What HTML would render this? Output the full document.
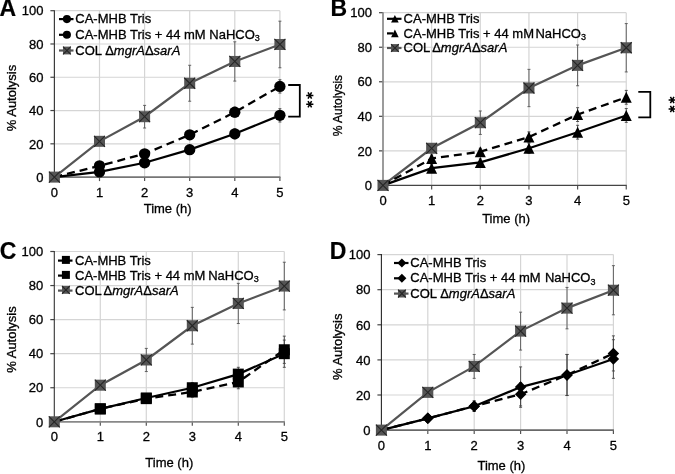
<!DOCTYPE html>
<html><head><meta charset="utf-8"><style>
html,body{margin:0;padding:0;background:#fff;width:675px;height:474px;overflow:hidden}
svg{display:block;filter:blur(0.3px)}
text{font-family:"Liberation Sans", sans-serif;fill:#000;stroke:#000;stroke-width:0.3px}
</style></head><body>
<svg width="675" height="474" viewBox="0 0 675 474">
<line x1="54.40" y1="143.82" x2="279.90" y2="143.82" stroke="#d5d5d5" stroke-width="1.2"/>
<line x1="54.40" y1="110.54" x2="279.90" y2="110.54" stroke="#d5d5d5" stroke-width="1.2"/>
<line x1="54.40" y1="77.26" x2="279.90" y2="77.26" stroke="#d5d5d5" stroke-width="1.2"/>
<line x1="54.40" y1="43.98" x2="279.90" y2="43.98" stroke="#d5d5d5" stroke-width="1.2"/>
<line x1="54.40" y1="10.70" x2="279.90" y2="10.70" stroke="#d5d5d5" stroke-width="1.2"/>
<line x1="99.50" y1="10.70" x2="99.50" y2="177.10" stroke="#d5d5d5" stroke-width="1.2"/>
<line x1="144.60" y1="10.70" x2="144.60" y2="177.10" stroke="#d5d5d5" stroke-width="1.2"/>
<line x1="189.70" y1="10.70" x2="189.70" y2="177.10" stroke="#d5d5d5" stroke-width="1.2"/>
<line x1="234.80" y1="10.70" x2="234.80" y2="177.10" stroke="#d5d5d5" stroke-width="1.2"/>
<line x1="279.90" y1="10.70" x2="279.90" y2="177.10" stroke="#d5d5d5" stroke-width="1.2"/>
<line x1="50.40" y1="143.82" x2="54.40" y2="143.82" stroke="#444" stroke-width="1.2"/>
<line x1="50.40" y1="110.54" x2="54.40" y2="110.54" stroke="#444" stroke-width="1.2"/>
<line x1="50.40" y1="77.26" x2="54.40" y2="77.26" stroke="#444" stroke-width="1.2"/>
<line x1="50.40" y1="43.98" x2="54.40" y2="43.98" stroke="#444" stroke-width="1.2"/>
<line x1="50.40" y1="10.70" x2="54.40" y2="10.70" stroke="#444" stroke-width="1.2"/>
<line x1="54.40" y1="177.10" x2="54.40" y2="181.10" stroke="#555" stroke-width="1.2"/>
<line x1="99.50" y1="177.10" x2="99.50" y2="181.10" stroke="#555" stroke-width="1.2"/>
<line x1="144.60" y1="177.10" x2="144.60" y2="181.10" stroke="#555" stroke-width="1.2"/>
<line x1="189.70" y1="177.10" x2="189.70" y2="181.10" stroke="#555" stroke-width="1.2"/>
<line x1="234.80" y1="177.10" x2="234.80" y2="181.10" stroke="#555" stroke-width="1.2"/>
<line x1="279.90" y1="177.10" x2="279.90" y2="181.10" stroke="#555" stroke-width="1.2"/>
<line x1="54.40" y1="10.20" x2="54.40" y2="177.10" stroke="#3c3c3c" stroke-width="1.2"/>
<line x1="54.40" y1="177.10" x2="280.40" y2="177.10" stroke="#767676" stroke-width="1.6"/>
<text x="43.40" y="181.80" text-anchor="end" font-size="13">0</text>
<text x="43.40" y="148.52" text-anchor="end" font-size="13">20</text>
<text x="43.40" y="115.24" text-anchor="end" font-size="13">40</text>
<text x="43.40" y="81.96" text-anchor="end" font-size="13">60</text>
<text x="43.40" y="48.68" text-anchor="end" font-size="13">80</text>
<text x="43.40" y="15.40" text-anchor="end" font-size="13">100</text>
<text x="54.40" y="196.70" text-anchor="middle" font-size="13">0</text>
<text x="99.50" y="196.70" text-anchor="middle" font-size="13">1</text>
<text x="144.60" y="196.70" text-anchor="middle" font-size="13">2</text>
<text x="189.70" y="196.70" text-anchor="middle" font-size="13">3</text>
<text x="234.80" y="196.70" text-anchor="middle" font-size="13">4</text>
<text x="279.90" y="196.70" text-anchor="middle" font-size="13">5</text>
<text x="167.65" y="212.70" text-anchor="middle" font-size="13" style="stroke-width:0.3px">Time (h)</text>
<text transform="translate(15.70,98.00) rotate(-90)" text-anchor="middle" font-size="13" style="stroke-width:0.3px">% Autolysis</text>
<text x="-0.60" y="15.70" font-size="23" font-weight="bold" style="stroke-width:0.2px">A</text>
<path d="M99.50,138.00V144.65M98.00,138.00h3M98.00,144.65h3" stroke="#555" stroke-width="0.9" fill="none"/>
<path d="M144.60,105.38V128.01M143.10,105.38h3M143.10,128.01h3" stroke="#555" stroke-width="0.9" fill="none"/>
<path d="M189.70,65.28V101.22M188.20,65.28h3M188.20,101.22h3" stroke="#555" stroke-width="0.9" fill="none"/>
<path d="M234.80,41.82V81.09M233.30,41.82h3M233.30,81.09h3" stroke="#555" stroke-width="0.9" fill="none"/>
<path d="M279.90,21.18V67.78M278.40,21.18h3M278.40,67.78h3" stroke="#555" stroke-width="0.9" fill="none"/>
<path d="M99.50,170.28V173.61M98.00,170.28h3M98.00,173.61h3" stroke="#444" stroke-width="0.9" fill="none"/>
<path d="M144.60,160.29V165.29M143.10,160.29h3M143.10,165.29h3" stroke="#444" stroke-width="0.9" fill="none"/>
<path d="M189.70,146.32V152.97M188.20,146.32h3M188.20,152.97h3" stroke="#444" stroke-width="0.9" fill="none"/>
<path d="M234.80,128.84V138.83M233.30,128.84h3M233.30,138.83h3" stroke="#444" stroke-width="0.9" fill="none"/>
<path d="M279.90,108.71V122.02M278.40,108.71h3M278.40,122.02h3" stroke="#444" stroke-width="0.9" fill="none"/>
<path d="M99.50,164.12V167.45M98.00,164.12h3M98.00,167.45h3" stroke="#444" stroke-width="0.9" fill="none"/>
<path d="M144.60,150.48V157.13M143.10,150.48h3M143.10,157.13h3" stroke="#444" stroke-width="0.9" fill="none"/>
<path d="M189.70,130.67V138.99M188.20,130.67h3M188.20,138.99h3" stroke="#444" stroke-width="0.9" fill="none"/>
<path d="M234.80,107.21V117.20M233.30,107.21h3M233.30,117.20h3" stroke="#444" stroke-width="0.9" fill="none"/>
<path d="M279.90,79.76V93.07M278.40,79.76h3M278.40,93.07h3" stroke="#444" stroke-width="0.9" fill="none"/>
<polyline points="54.40,177.10 99.50,141.32 144.60,116.70 189.70,83.25 234.80,61.45 279.90,44.48" fill="none" stroke="#555555" stroke-width="2.2"/>
<polyline points="54.40,177.10 99.50,165.78 144.60,153.80 189.70,134.83 234.80,112.20 279.90,86.41" fill="none" stroke="#000" stroke-width="2.3" stroke-dasharray="8,5"/>
<polyline points="54.40,177.10 99.50,171.94 144.60,162.79 189.70,149.64 234.80,133.84 279.90,115.37" fill="none" stroke="#000" stroke-width="2.2"/>
<circle cx="99.50" cy="165.78" r="5.65" fill="#000"/>
<circle cx="99.50" cy="171.94" r="5.65" fill="#000"/>
<circle cx="144.60" cy="153.80" r="5.65" fill="#000"/>
<circle cx="144.60" cy="162.79" r="5.65" fill="#000"/>
<circle cx="189.70" cy="134.83" r="5.65" fill="#000"/>
<circle cx="189.70" cy="149.64" r="5.65" fill="#000"/>
<circle cx="234.80" cy="112.20" r="5.65" fill="#000"/>
<circle cx="234.80" cy="133.84" r="5.65" fill="#000"/>
<circle cx="279.90" cy="86.41" r="5.65" fill="#000"/>
<circle cx="279.90" cy="115.37" r="5.65" fill="#000"/>
<rect x="48.90" y="171.60" width="11.00" height="11.00" fill="#555555"/><path d="M48.90,171.60L59.90,182.60M59.90,171.60L48.90,182.60" stroke="#262626" stroke-width="1.1"/>
<rect x="94.00" y="135.82" width="11.00" height="11.00" fill="#555555"/><path d="M94.00,135.82L105.00,146.82M105.00,135.82L94.00,146.82" stroke="#262626" stroke-width="1.1"/>
<rect x="139.10" y="111.20" width="11.00" height="11.00" fill="#555555"/><path d="M139.10,111.20L150.10,122.20M150.10,111.20L139.10,122.20" stroke="#262626" stroke-width="1.1"/>
<rect x="184.20" y="77.75" width="11.00" height="11.00" fill="#555555"/><path d="M184.20,77.75L195.20,88.75M195.20,77.75L184.20,88.75" stroke="#262626" stroke-width="1.1"/>
<rect x="229.30" y="55.95" width="11.00" height="11.00" fill="#555555"/><path d="M229.30,55.95L240.30,66.95M240.30,55.95L229.30,66.95" stroke="#262626" stroke-width="1.1"/>
<rect x="274.40" y="38.98" width="11.00" height="11.00" fill="#555555"/><path d="M274.40,38.98L285.40,49.98M285.40,38.98L274.40,49.98" stroke="#262626" stroke-width="1.1"/>
<line x1="59.00" y1="19.10" x2="73.50" y2="19.10" stroke="#000" stroke-width="2.2"/>
<circle cx="66.90" cy="19.10" r="4.05" fill="#000"/>
<line x1="59.00" y1="34.80" x2="65.00" y2="34.80" stroke="#000" stroke-width="2.2"/>
<circle cx="66.90" cy="34.80" r="4.05" fill="#000"/>
<line x1="59.00" y1="50.50" x2="73.50" y2="50.50" stroke="#555555" stroke-width="2.2"/>
<rect x="63.00" y="46.60" width="7.80" height="7.80" fill="#555555"/><path d="M63.00,46.60L70.80,54.40M70.80,46.60L63.00,54.40" stroke="#262626" stroke-width="1.1"/>
<text x="75.30" y="23.20" font-size="13">CA-MHB Tris</text>
<text x="75.30" y="38.90" font-size="13">CA-MHB Tris + 44 mM<tspan dx="0"> NaHCO</tspan><tspan font-size="9" dy="2.5">3</tspan></text>
<text x="75.30" y="54.60" font-size="13">COL <tspan dx="0">Δ</tspan><tspan font-style="italic">mgrA</tspan>Δ<tspan font-style="italic">sarA</tspan></text>
<path d="M288.2,85H299.8V116.6H288.2" fill="none" stroke="#000" stroke-width="1.8"/>
<path d="M306.20,95.40L313.40,95.40M308.00,92.28L311.60,98.52M311.60,92.28L308.00,98.52" stroke="#000" stroke-width="1.5" stroke-linecap="butt"/>
<path d="M306.20,104.20L313.40,104.20M308.00,101.08L311.60,107.32M311.60,101.08L308.00,107.32" stroke="#000" stroke-width="1.5" stroke-linecap="butt"/>
<line x1="383.00" y1="150.86" x2="626.25" y2="150.86" stroke="#d5d5d5" stroke-width="1.2"/>
<line x1="383.00" y1="116.32" x2="626.25" y2="116.32" stroke="#d5d5d5" stroke-width="1.2"/>
<line x1="383.00" y1="81.78" x2="626.25" y2="81.78" stroke="#d5d5d5" stroke-width="1.2"/>
<line x1="383.00" y1="47.24" x2="626.25" y2="47.24" stroke="#d5d5d5" stroke-width="1.2"/>
<line x1="383.00" y1="12.70" x2="626.25" y2="12.70" stroke="#d5d5d5" stroke-width="1.2"/>
<line x1="431.65" y1="12.70" x2="431.65" y2="185.40" stroke="#d5d5d5" stroke-width="1.2"/>
<line x1="480.30" y1="12.70" x2="480.30" y2="185.40" stroke="#d5d5d5" stroke-width="1.2"/>
<line x1="528.95" y1="12.70" x2="528.95" y2="185.40" stroke="#d5d5d5" stroke-width="1.2"/>
<line x1="577.60" y1="12.70" x2="577.60" y2="185.40" stroke="#d5d5d5" stroke-width="1.2"/>
<line x1="626.25" y1="12.70" x2="626.25" y2="185.40" stroke="#d5d5d5" stroke-width="1.2"/>
<line x1="379.00" y1="150.86" x2="383.00" y2="150.86" stroke="#444" stroke-width="1.2"/>
<line x1="379.00" y1="116.32" x2="383.00" y2="116.32" stroke="#444" stroke-width="1.2"/>
<line x1="379.00" y1="81.78" x2="383.00" y2="81.78" stroke="#444" stroke-width="1.2"/>
<line x1="379.00" y1="47.24" x2="383.00" y2="47.24" stroke="#444" stroke-width="1.2"/>
<line x1="379.00" y1="12.70" x2="383.00" y2="12.70" stroke="#444" stroke-width="1.2"/>
<line x1="383.00" y1="185.40" x2="383.00" y2="189.40" stroke="#555" stroke-width="1.2"/>
<line x1="431.65" y1="185.40" x2="431.65" y2="189.40" stroke="#555" stroke-width="1.2"/>
<line x1="480.30" y1="185.40" x2="480.30" y2="189.40" stroke="#555" stroke-width="1.2"/>
<line x1="528.95" y1="185.40" x2="528.95" y2="189.40" stroke="#555" stroke-width="1.2"/>
<line x1="577.60" y1="185.40" x2="577.60" y2="189.40" stroke="#555" stroke-width="1.2"/>
<line x1="626.25" y1="185.40" x2="626.25" y2="189.40" stroke="#555" stroke-width="1.2"/>
<line x1="383.00" y1="12.20" x2="383.00" y2="185.40" stroke="#8a8a8a" stroke-width="1.7"/>
<line x1="383.00" y1="185.40" x2="626.75" y2="185.40" stroke="#454545" stroke-width="1.3"/>
<text x="372.00" y="190.10" text-anchor="end" font-size="13">0</text>
<text x="372.00" y="155.56" text-anchor="end" font-size="13">20</text>
<text x="372.00" y="121.02" text-anchor="end" font-size="13">40</text>
<text x="372.00" y="86.48" text-anchor="end" font-size="13">60</text>
<text x="372.00" y="51.94" text-anchor="end" font-size="13">80</text>
<text x="372.00" y="17.40" text-anchor="end" font-size="13">100</text>
<text x="383.00" y="205.00" text-anchor="middle" font-size="13">0</text>
<text x="431.65" y="205.00" text-anchor="middle" font-size="13">1</text>
<text x="480.30" y="205.00" text-anchor="middle" font-size="13">2</text>
<text x="528.95" y="205.00" text-anchor="middle" font-size="13">3</text>
<text x="577.60" y="205.00" text-anchor="middle" font-size="13">4</text>
<text x="626.25" y="205.00" text-anchor="middle" font-size="13">5</text>
<text x="506.12" y="223.00" text-anchor="middle" font-size="13" style="stroke-width:0.3px">Time (h)</text>
<text transform="translate(342.10,105.60) rotate(-90)" text-anchor="middle" font-size="12" style="stroke-width:0.3px">% Autolysis</text>
<text x="330.60" y="15.80" font-size="23" font-weight="bold" style="stroke-width:0.2px">B</text>
<path d="M431.65,144.82V151.72M430.15,144.82h3M430.15,151.72h3" stroke="#555" stroke-width="0.9" fill="none"/>
<path d="M480.30,110.97V134.45M478.80,110.97h3M478.80,134.45h3" stroke="#555" stroke-width="0.9" fill="none"/>
<path d="M528.95,69.35V106.65M527.45,69.35h3M527.45,106.65h3" stroke="#555" stroke-width="0.9" fill="none"/>
<path d="M577.60,44.99V85.75M576.10,44.99h3M576.10,85.75h3" stroke="#555" stroke-width="0.9" fill="none"/>
<path d="M626.25,23.58V71.94M624.75,23.58h3M624.75,71.94h3" stroke="#555" stroke-width="0.9" fill="none"/>
<path d="M431.65,164.68V171.58M430.15,164.68h3M430.15,171.58h3" stroke="#444" stroke-width="0.9" fill="none"/>
<path d="M480.30,158.98V165.88M478.80,158.98h3M478.80,165.88h3" stroke="#444" stroke-width="0.9" fill="none"/>
<path d="M528.95,143.09V153.45M527.45,143.09h3M527.45,153.45h3" stroke="#444" stroke-width="0.9" fill="none"/>
<path d="M577.60,125.30V139.12M576.10,125.30h3M576.10,139.12h3" stroke="#444" stroke-width="0.9" fill="none"/>
<path d="M626.25,108.55V122.36M624.75,108.55h3M624.75,122.36h3" stroke="#444" stroke-width="0.9" fill="none"/>
<path d="M431.65,155.00V161.91M430.15,155.00h3M430.15,161.91h3" stroke="#444" stroke-width="0.9" fill="none"/>
<path d="M480.30,148.27V155.18M478.80,148.27h3M478.80,155.18h3" stroke="#444" stroke-width="0.9" fill="none"/>
<path d="M528.95,131.86V142.22M527.45,131.86h3M527.45,142.22h3" stroke="#444" stroke-width="0.9" fill="none"/>
<path d="M577.60,107.69V121.50M576.10,107.69h3M576.10,121.50h3" stroke="#444" stroke-width="0.9" fill="none"/>
<path d="M626.25,90.42V104.23M624.75,90.42h3M624.75,104.23h3" stroke="#444" stroke-width="0.9" fill="none"/>
<polyline points="383.00,185.40 431.65,148.27 480.30,122.71 528.95,88.00 577.60,65.37 626.25,47.76" fill="none" stroke="#555555" stroke-width="2.2"/>
<polyline points="383.00,185.40 431.65,158.46 480.30,151.72 528.95,137.04 577.60,114.59 626.25,97.32" fill="none" stroke="#000" stroke-width="2.3" stroke-dasharray="8,5"/>
<polyline points="383.00,185.40 431.65,168.13 480.30,162.43 528.95,148.27 577.60,132.21 626.25,115.46" fill="none" stroke="#000" stroke-width="2.2"/>
<polygon points="431.65,152.96 437.15,163.96 426.15,163.96" fill="#000"/>
<polygon points="431.65,162.63 437.15,173.63 426.15,173.63" fill="#000"/>
<polygon points="480.30,146.22 485.80,157.22 474.80,157.22" fill="#000"/>
<polygon points="480.30,156.93 485.80,167.93 474.80,167.93" fill="#000"/>
<polygon points="528.95,131.54 534.45,142.54 523.45,142.54" fill="#000"/>
<polygon points="528.95,142.77 534.45,153.77 523.45,153.77" fill="#000"/>
<polygon points="577.60,109.09 583.10,120.09 572.10,120.09" fill="#000"/>
<polygon points="577.60,126.71 583.10,137.71 572.10,137.71" fill="#000"/>
<polygon points="626.25,91.82 631.75,102.82 620.75,102.82" fill="#000"/>
<polygon points="626.25,109.96 631.75,120.96 620.75,120.96" fill="#000"/>
<rect x="377.50" y="179.90" width="11.00" height="11.00" fill="#555555"/><path d="M377.50,179.90L388.50,190.90M388.50,179.90L377.50,190.90" stroke="#262626" stroke-width="1.1"/>
<rect x="426.15" y="142.77" width="11.00" height="11.00" fill="#555555"/><path d="M426.15,142.77L437.15,153.77M437.15,142.77L426.15,153.77" stroke="#262626" stroke-width="1.1"/>
<rect x="474.80" y="117.21" width="11.00" height="11.00" fill="#555555"/><path d="M474.80,117.21L485.80,128.21M485.80,117.21L474.80,128.21" stroke="#262626" stroke-width="1.1"/>
<rect x="523.45" y="82.50" width="11.00" height="11.00" fill="#555555"/><path d="M523.45,82.50L534.45,93.50M534.45,82.50L523.45,93.50" stroke="#262626" stroke-width="1.1"/>
<rect x="572.10" y="59.87" width="11.00" height="11.00" fill="#555555"/><path d="M572.10,59.87L583.10,70.87M583.10,59.87L572.10,70.87" stroke="#262626" stroke-width="1.1"/>
<rect x="620.75" y="42.26" width="11.00" height="11.00" fill="#555555"/><path d="M620.75,42.26L631.75,53.26M631.75,42.26L620.75,53.26" stroke="#262626" stroke-width="1.1"/>
<line x1="387.00" y1="18.80" x2="401.50" y2="18.80" stroke="#000" stroke-width="2.2"/>
<polygon points="394.90,15.00 398.70,22.60 391.10,22.60" fill="#000"/>
<line x1="387.00" y1="33.40" x2="393.00" y2="33.40" stroke="#000" stroke-width="2.2"/>
<polygon points="394.90,29.60 398.70,37.20 391.10,37.20" fill="#000"/>
<line x1="387.00" y1="48.00" x2="401.50" y2="48.00" stroke="#555555" stroke-width="2.2"/>
<rect x="391.00" y="44.10" width="7.80" height="7.80" fill="#555555"/><path d="M391.00,44.10L398.80,51.90M398.80,44.10L391.00,51.90" stroke="#262626" stroke-width="1.1"/>
<text x="403.60" y="22.90" font-size="13">CA-MHB Tris</text>
<text x="403.60" y="37.50" font-size="13">CA-MHB Tris + 44 mM<tspan dx="-2.2"> NaHCO</tspan><tspan font-size="9" dy="2.5">3</tspan></text>
<text x="403.60" y="52.10" font-size="13">COL <tspan dx="-1.3">Δ</tspan><tspan font-style="italic">mgrA</tspan>Δ<tspan font-style="italic">sarA</tspan></text>
<path d="M638.3,91.8H650.3V117.4H638.3" fill="none" stroke="#000" stroke-width="1.8"/>
<path d="M668.60,99.90L675.80,99.90M670.40,96.78L674.00,103.02M674.00,96.78L670.40,103.02" stroke="#000" stroke-width="1.5" stroke-linecap="butt"/>
<path d="M668.60,109.10L675.80,109.10M670.40,105.98L674.00,112.22M674.00,105.98L670.40,112.22" stroke="#000" stroke-width="1.5" stroke-linecap="butt"/>
<line x1="54.30" y1="387.74" x2="284.30" y2="387.74" stroke="#d5d5d5" stroke-width="1.2"/>
<line x1="54.30" y1="353.68" x2="284.30" y2="353.68" stroke="#d5d5d5" stroke-width="1.2"/>
<line x1="54.30" y1="319.62" x2="284.30" y2="319.62" stroke="#d5d5d5" stroke-width="1.2"/>
<line x1="54.30" y1="285.56" x2="284.30" y2="285.56" stroke="#d5d5d5" stroke-width="1.2"/>
<line x1="54.30" y1="251.50" x2="284.30" y2="251.50" stroke="#d5d5d5" stroke-width="1.2"/>
<line x1="100.30" y1="251.50" x2="100.30" y2="421.80" stroke="#d5d5d5" stroke-width="1.2"/>
<line x1="146.30" y1="251.50" x2="146.30" y2="421.80" stroke="#d5d5d5" stroke-width="1.2"/>
<line x1="192.30" y1="251.50" x2="192.30" y2="421.80" stroke="#d5d5d5" stroke-width="1.2"/>
<line x1="238.30" y1="251.50" x2="238.30" y2="421.80" stroke="#d5d5d5" stroke-width="1.2"/>
<line x1="284.30" y1="251.50" x2="284.30" y2="421.80" stroke="#d5d5d5" stroke-width="1.2"/>
<line x1="50.30" y1="387.74" x2="54.30" y2="387.74" stroke="#444" stroke-width="1.2"/>
<line x1="50.30" y1="353.68" x2="54.30" y2="353.68" stroke="#444" stroke-width="1.2"/>
<line x1="50.30" y1="319.62" x2="54.30" y2="319.62" stroke="#444" stroke-width="1.2"/>
<line x1="50.30" y1="285.56" x2="54.30" y2="285.56" stroke="#444" stroke-width="1.2"/>
<line x1="50.30" y1="251.50" x2="54.30" y2="251.50" stroke="#444" stroke-width="1.2"/>
<line x1="54.30" y1="421.80" x2="54.30" y2="425.80" stroke="#555" stroke-width="1.2"/>
<line x1="100.30" y1="421.80" x2="100.30" y2="425.80" stroke="#555" stroke-width="1.2"/>
<line x1="146.30" y1="421.80" x2="146.30" y2="425.80" stroke="#555" stroke-width="1.2"/>
<line x1="192.30" y1="421.80" x2="192.30" y2="425.80" stroke="#555" stroke-width="1.2"/>
<line x1="238.30" y1="421.80" x2="238.30" y2="425.80" stroke="#555" stroke-width="1.2"/>
<line x1="284.30" y1="421.80" x2="284.30" y2="425.80" stroke="#555" stroke-width="1.2"/>
<line x1="54.30" y1="251.00" x2="54.30" y2="421.80" stroke="#333333" stroke-width="1.1"/>
<line x1="54.30" y1="421.80" x2="284.80" y2="421.80" stroke="#888888" stroke-width="1.8"/>
<text x="43.30" y="426.50" text-anchor="end" font-size="13">0</text>
<text x="43.30" y="392.44" text-anchor="end" font-size="13">20</text>
<text x="43.30" y="358.38" text-anchor="end" font-size="13">40</text>
<text x="43.30" y="324.32" text-anchor="end" font-size="13">60</text>
<text x="43.30" y="290.26" text-anchor="end" font-size="13">80</text>
<text x="43.30" y="256.20" text-anchor="end" font-size="13">100</text>
<text x="54.30" y="441.40" text-anchor="middle" font-size="13">0</text>
<text x="100.30" y="441.40" text-anchor="middle" font-size="13">1</text>
<text x="146.30" y="441.40" text-anchor="middle" font-size="13">2</text>
<text x="192.30" y="441.40" text-anchor="middle" font-size="13">3</text>
<text x="238.30" y="441.40" text-anchor="middle" font-size="13">4</text>
<text x="284.30" y="441.40" text-anchor="middle" font-size="13">5</text>
<text x="169.30" y="467.00" text-anchor="middle" font-size="13" style="stroke-width:0.3px">Time (h)</text>
<text transform="translate(15.70,339.50) rotate(-90)" text-anchor="middle" font-size="13" style="stroke-width:0.3px">% Autolysis</text>
<text x="-0.20" y="259.20" font-size="23" font-weight="bold" style="stroke-width:0.2px">C</text>
<path d="M100.30,381.78V388.59M98.80,381.78h3M98.80,388.59h3" stroke="#555" stroke-width="0.9" fill="none"/>
<path d="M146.30,348.40V371.56M144.80,348.40h3M144.80,371.56h3" stroke="#555" stroke-width="0.9" fill="none"/>
<path d="M192.30,307.36V344.14M190.80,307.36h3M190.80,344.14h3" stroke="#555" stroke-width="0.9" fill="none"/>
<path d="M238.30,283.35V323.54M236.80,283.35h3M236.80,323.54h3" stroke="#555" stroke-width="0.9" fill="none"/>
<path d="M284.30,262.23V309.91M282.80,262.23h3M282.80,309.91h3" stroke="#555" stroke-width="0.9" fill="none"/>
<path d="M100.30,406.30V411.41M98.80,406.30h3M98.80,411.41h3" stroke="#444" stroke-width="0.9" fill="none"/>
<path d="M146.30,394.55V401.36M144.80,394.55h3M144.80,401.36h3" stroke="#444" stroke-width="0.9" fill="none"/>
<path d="M192.30,382.63V392.85M190.80,382.63h3M190.80,392.85h3" stroke="#444" stroke-width="0.9" fill="none"/>
<path d="M238.30,367.30V380.93M236.80,367.30h3M236.80,380.93h3" stroke="#444" stroke-width="0.9" fill="none"/>
<path d="M284.30,340.06V367.30M282.80,340.06h3M282.80,367.30h3" stroke="#444" stroke-width="0.9" fill="none"/>
<path d="M100.30,406.30V411.41M98.80,406.30h3M98.80,411.41h3" stroke="#444" stroke-width="0.9" fill="none"/>
<path d="M146.30,395.23V402.05M144.80,395.23h3M144.80,402.05h3" stroke="#444" stroke-width="0.9" fill="none"/>
<path d="M192.30,386.89V397.11M190.80,386.89h3M190.80,397.11h3" stroke="#444" stroke-width="0.9" fill="none"/>
<path d="M238.30,375.14V388.76M236.80,375.14h3M236.80,388.76h3" stroke="#444" stroke-width="0.9" fill="none"/>
<path d="M284.30,336.14V363.39M282.80,336.14h3M282.80,363.39h3" stroke="#444" stroke-width="0.9" fill="none"/>
<polyline points="54.30,421.80 100.30,385.19 146.30,359.98 192.30,325.75 238.30,303.44 284.30,286.07" fill="none" stroke="#555555" stroke-width="2.2"/>
<polyline points="54.30,421.80 100.30,408.86 146.30,398.64 192.30,392.00 238.30,381.95 284.30,349.76" fill="none" stroke="#000" stroke-width="2.3" stroke-dasharray="8,5"/>
<polyline points="54.30,421.80 100.30,408.86 146.30,397.96 192.30,387.74 238.30,374.12 284.30,353.68" fill="none" stroke="#000" stroke-width="2.2"/>
<rect x="94.80" y="403.36" width="11.00" height="11.00" fill="#000"/>
<rect x="94.80" y="403.36" width="11.00" height="11.00" fill="#000"/>
<rect x="140.80" y="393.14" width="11.00" height="11.00" fill="#000"/>
<rect x="140.80" y="392.46" width="11.00" height="11.00" fill="#000"/>
<rect x="186.80" y="386.50" width="11.00" height="11.00" fill="#000"/>
<rect x="186.80" y="382.24" width="11.00" height="11.00" fill="#000"/>
<rect x="232.80" y="376.45" width="11.00" height="11.00" fill="#000"/>
<rect x="232.80" y="368.62" width="11.00" height="11.00" fill="#000"/>
<rect x="278.80" y="344.26" width="11.00" height="11.00" fill="#000"/>
<rect x="278.80" y="348.18" width="11.00" height="11.00" fill="#000"/>
<rect x="48.80" y="416.30" width="11.00" height="11.00" fill="#555555"/><path d="M48.80,416.30L59.80,427.30M59.80,416.30L48.80,427.30" stroke="#262626" stroke-width="1.1"/>
<rect x="94.80" y="379.69" width="11.00" height="11.00" fill="#555555"/><path d="M94.80,379.69L105.80,390.69M105.80,379.69L94.80,390.69" stroke="#262626" stroke-width="1.1"/>
<rect x="140.80" y="354.48" width="11.00" height="11.00" fill="#555555"/><path d="M140.80,354.48L151.80,365.48M151.80,354.48L140.80,365.48" stroke="#262626" stroke-width="1.1"/>
<rect x="186.80" y="320.25" width="11.00" height="11.00" fill="#555555"/><path d="M186.80,320.25L197.80,331.25M197.80,320.25L186.80,331.25" stroke="#262626" stroke-width="1.1"/>
<rect x="232.80" y="297.94" width="11.00" height="11.00" fill="#555555"/><path d="M232.80,297.94L243.80,308.94M243.80,297.94L232.80,308.94" stroke="#262626" stroke-width="1.1"/>
<rect x="278.80" y="280.57" width="11.00" height="11.00" fill="#555555"/><path d="M278.80,280.57L289.80,291.57M289.80,280.57L278.80,291.57" stroke="#262626" stroke-width="1.1"/>
<line x1="58.00" y1="260.60" x2="72.50" y2="260.60" stroke="#000" stroke-width="2.2"/>
<rect x="61.90" y="255.90" width="8.00" height="8.00" fill="#000"/>
<line x1="58.00" y1="275.60" x2="64.00" y2="275.60" stroke="#000" stroke-width="2.2"/>
<rect x="61.90" y="270.90" width="8.00" height="8.00" fill="#000"/>
<line x1="58.00" y1="290.60" x2="72.50" y2="290.60" stroke="#555555" stroke-width="2.2"/>
<rect x="62.00" y="286.00" width="7.80" height="7.80" fill="#555555"/><path d="M62.00,286.00L69.80,293.80M69.80,286.00L62.00,293.80" stroke="#262626" stroke-width="1.1"/>
<text x="75.00" y="264.70" font-size="13">CA-MHB Tris</text>
<text x="75.00" y="279.70" font-size="13">CA-MHB Tris + 44 mM<tspan dx="-0.8"> NaHCO</tspan><tspan font-size="9" dy="2.5">3</tspan></text>
<text x="75.00" y="294.70" font-size="13">COL <tspan dx="-1.3">Δ</tspan><tspan font-style="italic">mgrA</tspan>Δ<tspan font-style="italic">sarA</tspan></text>
<line x1="381.40" y1="395.00" x2="613.40" y2="395.00" stroke="#d5d5d5" stroke-width="1.2"/>
<line x1="381.40" y1="359.90" x2="613.40" y2="359.90" stroke="#d5d5d5" stroke-width="1.2"/>
<line x1="381.40" y1="324.80" x2="613.40" y2="324.80" stroke="#d5d5d5" stroke-width="1.2"/>
<line x1="381.40" y1="289.70" x2="613.40" y2="289.70" stroke="#d5d5d5" stroke-width="1.2"/>
<line x1="381.40" y1="254.60" x2="613.40" y2="254.60" stroke="#d5d5d5" stroke-width="1.2"/>
<line x1="427.80" y1="254.60" x2="427.80" y2="430.10" stroke="#d5d5d5" stroke-width="1.2"/>
<line x1="474.20" y1="254.60" x2="474.20" y2="430.10" stroke="#d5d5d5" stroke-width="1.2"/>
<line x1="520.60" y1="254.60" x2="520.60" y2="430.10" stroke="#d5d5d5" stroke-width="1.2"/>
<line x1="567.00" y1="254.60" x2="567.00" y2="430.10" stroke="#d5d5d5" stroke-width="1.2"/>
<line x1="613.40" y1="254.60" x2="613.40" y2="430.10" stroke="#d5d5d5" stroke-width="1.2"/>
<line x1="377.40" y1="395.00" x2="381.40" y2="395.00" stroke="#444" stroke-width="1.2"/>
<line x1="377.40" y1="359.90" x2="381.40" y2="359.90" stroke="#444" stroke-width="1.2"/>
<line x1="377.40" y1="324.80" x2="381.40" y2="324.80" stroke="#444" stroke-width="1.2"/>
<line x1="377.40" y1="289.70" x2="381.40" y2="289.70" stroke="#444" stroke-width="1.2"/>
<line x1="377.40" y1="254.60" x2="381.40" y2="254.60" stroke="#444" stroke-width="1.2"/>
<line x1="381.40" y1="430.10" x2="381.40" y2="434.10" stroke="#555" stroke-width="1.2"/>
<line x1="427.80" y1="430.10" x2="427.80" y2="434.10" stroke="#555" stroke-width="1.2"/>
<line x1="474.20" y1="430.10" x2="474.20" y2="434.10" stroke="#555" stroke-width="1.2"/>
<line x1="520.60" y1="430.10" x2="520.60" y2="434.10" stroke="#555" stroke-width="1.2"/>
<line x1="567.00" y1="430.10" x2="567.00" y2="434.10" stroke="#555" stroke-width="1.2"/>
<line x1="613.40" y1="430.10" x2="613.40" y2="434.10" stroke="#555" stroke-width="1.2"/>
<line x1="381.40" y1="254.10" x2="381.40" y2="430.10" stroke="#262626" stroke-width="1.1"/>
<line x1="381.40" y1="430.10" x2="613.90" y2="430.10" stroke="#686868" stroke-width="1.8"/>
<text x="370.40" y="434.80" text-anchor="end" font-size="13">0</text>
<text x="370.40" y="399.70" text-anchor="end" font-size="13">20</text>
<text x="370.40" y="364.60" text-anchor="end" font-size="13">40</text>
<text x="370.40" y="329.50" text-anchor="end" font-size="13">60</text>
<text x="370.40" y="294.40" text-anchor="end" font-size="13">80</text>
<text x="370.40" y="259.30" text-anchor="end" font-size="13">100</text>
<text x="381.40" y="449.70" text-anchor="middle" font-size="13">0</text>
<text x="427.80" y="449.70" text-anchor="middle" font-size="13">1</text>
<text x="474.20" y="449.70" text-anchor="middle" font-size="13">2</text>
<text x="520.60" y="449.70" text-anchor="middle" font-size="13">3</text>
<text x="567.00" y="449.70" text-anchor="middle" font-size="13">4</text>
<text x="613.40" y="449.70" text-anchor="middle" font-size="13">5</text>
<text x="501.40" y="470.20" text-anchor="middle" font-size="13" style="stroke-width:0.3px">Time (h)</text>
<text transform="translate(342.20,346.80) rotate(-90)" text-anchor="middle" font-size="13" style="stroke-width:0.3px">% Autolysis</text>
<text x="329.80" y="258.80" font-size="23" font-weight="bold" style="stroke-width:0.2px">D</text>
<path d="M427.80,388.86V395.88M426.30,388.86h3M426.30,395.88h3" stroke="#555" stroke-width="0.9" fill="none"/>
<path d="M474.20,354.46V378.33M472.70,354.46h3M472.70,378.33h3" stroke="#555" stroke-width="0.9" fill="none"/>
<path d="M520.60,312.16V350.07M519.10,312.16h3M519.10,350.07h3" stroke="#555" stroke-width="0.9" fill="none"/>
<path d="M567.00,287.42V328.84M565.50,287.42h3M565.50,328.84h3" stroke="#555" stroke-width="0.9" fill="none"/>
<path d="M613.40,265.66V314.80M611.90,265.66h3M611.90,314.80h3" stroke="#555" stroke-width="0.9" fill="none"/>
<path d="M427.80,414.83V421.85M426.30,414.83h3M426.30,421.85h3" stroke="#444" stroke-width="0.9" fill="none"/>
<path d="M474.20,400.97V411.50M472.70,400.97h3M472.70,411.50h3" stroke="#444" stroke-width="0.9" fill="none"/>
<path d="M520.60,366.92V407.29M519.10,366.92h3M519.10,407.29h3" stroke="#444" stroke-width="0.9" fill="none"/>
<path d="M567.00,354.46V395.53M565.50,354.46h3M565.50,395.53h3" stroke="#444" stroke-width="0.9" fill="none"/>
<path d="M613.40,339.72V378.33M611.90,339.72h3M611.90,378.33h3" stroke="#444" stroke-width="0.9" fill="none"/>
<path d="M427.80,414.83V421.85M426.30,414.83h3M426.30,421.85h3" stroke="#444" stroke-width="0.9" fill="none"/>
<path d="M474.20,400.97V411.50M472.70,400.97h3M472.70,411.50h3" stroke="#444" stroke-width="0.9" fill="none"/>
<path d="M520.60,382.72V405.88M519.10,382.72h3M519.10,405.88h3" stroke="#444" stroke-width="0.9" fill="none"/>
<path d="M567.00,354.46V395.53M565.50,354.46h3M565.50,395.53h3" stroke="#444" stroke-width="0.9" fill="none"/>
<path d="M613.40,335.86V370.96M611.90,335.86h3M611.90,370.96h3" stroke="#444" stroke-width="0.9" fill="none"/>
<polyline points="381.40,430.10 427.80,392.37 474.20,366.39 520.60,331.12 567.00,308.13 613.40,290.23" fill="none" stroke="#555555" stroke-width="2.2"/>
<polyline points="381.40,430.10 427.80,418.34 474.20,406.23 520.60,394.30 567.00,374.99 613.40,353.41" fill="none" stroke="#000" stroke-width="2.3" stroke-dasharray="8,5"/>
<polyline points="381.40,430.10 427.80,418.34 474.20,406.23 520.60,387.10 567.00,374.99 613.40,359.02" fill="none" stroke="#000" stroke-width="2.2"/>
<polygon points="427.80,412.59 433.55,418.34 427.80,424.09 422.05,418.34" fill="#000"/>
<polygon points="427.80,412.59 433.55,418.34 427.80,424.09 422.05,418.34" fill="#000"/>
<polygon points="474.20,400.48 479.95,406.23 474.20,411.98 468.45,406.23" fill="#000"/>
<polygon points="474.20,400.48 479.95,406.23 474.20,411.98 468.45,406.23" fill="#000"/>
<polygon points="520.60,388.55 526.35,394.30 520.60,400.05 514.85,394.30" fill="#000"/>
<polygon points="520.60,381.35 526.35,387.10 520.60,392.85 514.85,387.10" fill="#000"/>
<polygon points="567.00,369.24 572.75,374.99 567.00,380.74 561.25,374.99" fill="#000"/>
<polygon points="567.00,369.24 572.75,374.99 567.00,380.74 561.25,374.99" fill="#000"/>
<polygon points="613.40,347.66 619.15,353.41 613.40,359.16 607.65,353.41" fill="#000"/>
<polygon points="613.40,353.27 619.15,359.02 613.40,364.77 607.65,359.02" fill="#000"/>
<rect x="375.90" y="424.60" width="11.00" height="11.00" fill="#555555"/><path d="M375.90,424.60L386.90,435.60M386.90,424.60L375.90,435.60" stroke="#262626" stroke-width="1.1"/>
<rect x="422.30" y="386.87" width="11.00" height="11.00" fill="#555555"/><path d="M422.30,386.87L433.30,397.87M433.30,386.87L422.30,397.87" stroke="#262626" stroke-width="1.1"/>
<rect x="468.70" y="360.89" width="11.00" height="11.00" fill="#555555"/><path d="M468.70,360.89L479.70,371.89M479.70,360.89L468.70,371.89" stroke="#262626" stroke-width="1.1"/>
<rect x="515.10" y="325.62" width="11.00" height="11.00" fill="#555555"/><path d="M515.10,325.62L526.10,336.62M526.10,325.62L515.10,336.62" stroke="#262626" stroke-width="1.1"/>
<rect x="561.50" y="302.63" width="11.00" height="11.00" fill="#555555"/><path d="M561.50,302.63L572.50,313.63M572.50,302.63L561.50,313.63" stroke="#262626" stroke-width="1.1"/>
<rect x="607.90" y="284.73" width="11.00" height="11.00" fill="#555555"/><path d="M607.90,284.73L618.90,295.73M618.90,284.73L607.90,295.73" stroke="#262626" stroke-width="1.1"/>
<line x1="394.00" y1="263.00" x2="408.50" y2="263.00" stroke="#000" stroke-width="2.2"/>
<polygon points="401.90,258.50 406.40,263.00 401.90,267.50 397.40,263.00" fill="#000"/>
<line x1="394.00" y1="278.30" x2="400.00" y2="278.30" stroke="#000" stroke-width="2.2"/>
<polygon points="401.90,273.80 406.40,278.30 401.90,282.80 397.40,278.30" fill="#000"/>
<line x1="394.00" y1="293.60" x2="408.50" y2="293.60" stroke="#555555" stroke-width="2.2"/>
<rect x="398.00" y="289.70" width="7.80" height="7.80" fill="#555555"/><path d="M398.00,289.70L405.80,297.50M405.80,289.70L398.00,297.50" stroke="#262626" stroke-width="1.1"/>
<text x="410.30" y="267.10" font-size="13">CA-MHB Tris</text>
<text x="410.30" y="282.40" font-size="13">CA-MHB Tris + 44 mM<tspan dx="0.6"> NaHCO</tspan><tspan font-size="9" dy="2.5">3</tspan></text>
<text x="410.30" y="297.70" font-size="13">COL <tspan dx="0">Δ</tspan><tspan font-style="italic">mgrA</tspan>Δ<tspan font-style="italic">sarA</tspan></text>
</svg>
</body></html>
